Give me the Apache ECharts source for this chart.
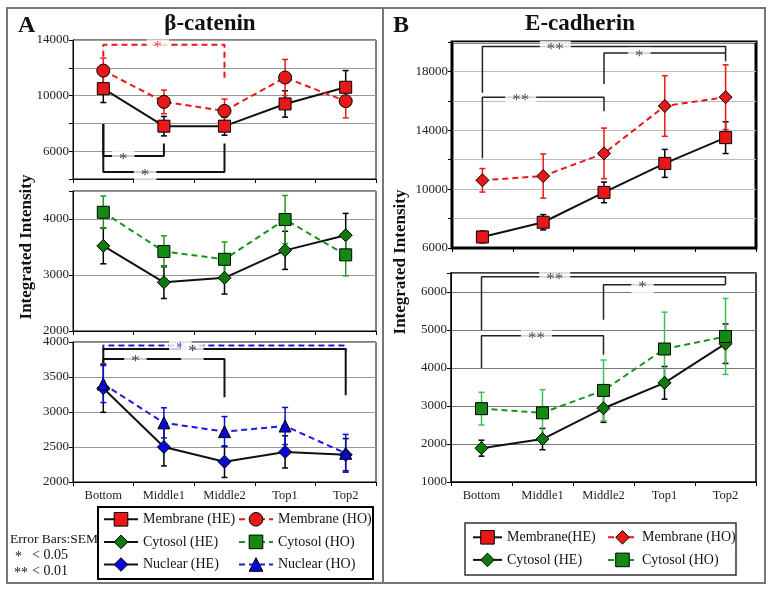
<!DOCTYPE html>
<html>
<head>
<meta charset="utf-8">
<title>beta-catenin / E-cadherin</title>
<script src="https://cdn.jsdelivr.net/npm/echarts@6/dist/echarts.min.js"></script>
<style>
html, body { margin: 0; padding: 0; background: #fff; }
#chart { width: 774px; height: 593px; }
</style>
</head>
<body>
<div id="chart"></div>
<script>
var categories = ['Bottom', 'Middle1', 'Middle2', 'Top1', 'Top2'];

// beta-catenin (panel A), mean and SEM per position
var bcatMemHE = [10500, 7800, 7800, 9400, 10600];
var bcatMemHEsem = [1000, 700, 650, 950, 1200];
var bcatMemHO = [11800, 9550, 8900, 11300, 9600];
var bcatMemHOsem = [900, 850, 850, 1300, 1200];
var bcatCytHE = [3520, 2870, 2950, 3440, 3710];
var bcatCytHEsem = [320, 290, 290, 340, 390];
var bcatCytHO = [4120, 3420, 3280, 3990, 3360];
var bcatCytHOsem = [290, 280, 310, 430, 375];
var bcatNucHE = [3340, 2500, 2290, 2430, 2390];
var bcatNucHEsem = [345, 270, 225, 230, 230];
var bcatNucHO = [3400, 2845, 2720, 2800, 2410];
var bcatNucHOsem = [265, 215, 215, 265, 270];

// E-cadherin (panel B)
var ecadMemHE = [6750, 7750, 9780, 11750, 13500];
var ecadMemHEsem = [400, 520, 700, 950, 1080];
var ecadMemHO = [10600, 10890, 12430, 15650, 16250];
var ecadMemHOsem = [800, 1500, 1720, 2060, 2200];
var ecadCytHE = [1890, 2130, 2940, 3610, 4640];
var ecadCytHEsem = [210, 280, 370, 430, 520];
var ecadCytHO = [2930, 2820, 3410, 4500, 4830];
var ecadCytHOsem = [430, 610, 800, 970, 1000];

// significance brackets: [fromIdx, toIdx, yTop, yLeftEnd, yRightEnd, starPos, text]
var sigA1 = [[0, 2, 13650, 12800, 11000, 0.9, '*']];
var sigA1b = [[0, 1, 5650, 7950, 6550, 0.33, '*'], [0, 2, 4500, 7950, 6550, 0.69, '*']];
var sigA3 = [[0, 4, 3950, 3880, 3880, 1.27, '*']];
var sigA3b = [[0, 4, 3900, 3700, 3240, 1.47, '*'], [0, 2, 3757, 3700, 3210, 0.53, '*']];
var sigB1 = [[0, 4, 19700, 16550, 18700, 1.2, '**'], [2, 4, 19250, 17150, 19250, 2.58, '*'], [0, 2, 16250, 12100, 15300, 0.63, '**']];
var sigB2 = [[0, 4, 6400, 5000, 6200, 1.2, '**'], [2, 4, 6190, 5270, 6190, 2.64, '*'], [0, 2, 4850, 4000, 4350, 0.9, '**']];

var serif = '"Liberation Serif", "Times New Roman", serif';
var red = '#e81818';
var green = '#0e7a0e';
var blue = '#0a0ad8';

var grids = [
    { left: 73, top: 40, width: 303, height: 139 },
    { left: 73, top: 191, width: 303, height: 140 },
    { left: 73, top: 342, width: 303, height: 140 },
    { left: 452, top: 42, width: 304, height: 206 },
    { left: 451, top: 273, width: 305, height: 209 }
];

var yRanges = [
    [4000, 14000, 2000, function(v) { return (v - 6000) % 4000 === 0 ? v : ''; }, '#999'],
    [2000, 4500, 1000, function(v) { return v > 4000 ? '' : v; }, '#999'],
    [2000, 4000, 500, function(v) { return v; }, '#999'],
    [6000, 20000, 2000, function(v) { return (v - 6000) % 4000 === 0 && v < 20000 ? v : ''; }, '#bbb'],
    [1000, 6500, 1000, function(v) { return v > 6000 ? '' : v; }, '#777']
];

lineSeries = function(name, gi, data, symbol, fill, color, dashed, size) {
    return {
        name: name,
        type: 'line',
        xAxisIndex: gi,
        yAxisIndex: gi,
        data: data,
        symbol: symbol,
        symbolSize: size || 12,
        showAllSymbol: true,
        z: 4,
        itemStyle: { color: fill, borderColor: '#000', borderWidth: 1 },
        lineStyle: { color: color, width: 2, type: dashed ? [6, 4] : 'solid' },
        emphasis: { disabled: true }
    };
};

errorSeries = function(gi, means, sems, color) {
    return {
        type: 'custom',
        xAxisIndex: gi,
        yAxisIndex: gi,
        z: 3,
        silent: true,
        data: means.map(function(m, i) { return [i, m - sems[i], m + sems[i]]; }),
        renderItem: function(params, api) {
            var lo = api.coord([api.value(0), api.value(1)]);
            var hi = api.coord([api.value(0), api.value(2)]);
            var w = 3;
            var st = { stroke: color, lineWidth: 1.5 };
            return {
                type: 'group',
                children: [
                    { type: 'line', shape: { x1: lo[0], y1: lo[1], x2: hi[0], y2: hi[1] }, style: st },
                    { type: 'line', shape: { x1: lo[0] - w, y1: lo[1], x2: lo[0] + w, y2: lo[1] }, style: st },
                    { type: 'line', shape: { x1: hi[0] - w, y1: hi[1], x2: hi[0] + w, y2: hi[1] }, style: st }
                ]
            };
        }
    };
};

bracketSeries = function(gi, list, color, dashed, width) {
    var out = [];
    list.forEach(function(b) {
        out.push({
            type: 'line',
            xAxisIndex: gi + 5,
            yAxisIndex: gi,
            symbol: 'none',
            silent: true,
            z: 5,
            lineStyle: { color: color, width: width, type: dashed ? [6, 4] : 'solid' },
            data: [[b[0], b[3]], [b[0], b[2]], [b[1], b[2]], [b[1], b[4]]]
        });
        out.push({
            type: 'scatter',
            xAxisIndex: gi + 5,
            yAxisIndex: gi,
            symbolSize: 0,
            silent: true,
            z: 6,
            data: [[b[5], b[2]]],
            label: {
                show: true, position: 'inside', formatter: b[6], color: color,
                fontFamily: serif, fontSize: 17, backgroundColor: '#fff',
                padding: [0, 7], offset: [0, 3]
            }
        });
    });
    return out;
};

var xAxes = [];
var yAxes = [];
grids.forEach(function(g, i) {
    xAxes.push({
        type: 'category', gridIndex: i, data: categories,
        axisLine: { onZero: false, lineStyle: { color: '#000', width: 1 } },
        axisTick: { show: true, length: 4, lineStyle: { color: '#000' } },
        axisLabel: { show: i === 2 || i === 4, interval: 0, fontFamily: serif, fontSize: 12.5, color: '#222', margin: 7 },
        splitLine: { show: false }
    });
});
grids.forEach(function(g, i) {
    xAxes.push({ type: 'value', gridIndex: i, min: -0.5, max: 4.5, show: false });
    var r = yRanges[i];
    yAxes.push({
        type: 'value', gridIndex: i, min: r[0], max: r[1], interval: r[2],
        axisLine: { show: true, onZero: false, lineStyle: { color: '#000', width: 1 } },
        axisTick: { show: true, length: 4, lineStyle: { color: '#000' } },
        axisLabel: { fontFamily: serif, fontSize: 13, color: '#222', margin: 4, formatter: r[3] },
        splitLine: { show: true, lineStyle: { color: r[4], width: 1 } }
    });
});

var series = [].concat(
    errorSeries(0, bcatMemHE, bcatMemHEsem, '#000'),
    errorSeries(0, bcatMemHO, bcatMemHOsem, red),
    lineSeries('Membrane (HE)', 0, bcatMemHE, 'rect', red, '#111', false, 12),
    lineSeries('Membrane (HO)', 0, bcatMemHO, 'circle', red, red, true, 13),
    bracketSeries(0, sigA1, red, true, 2),
    bracketSeries(0, sigA1b, '#111', false, 2),

    errorSeries(1, bcatCytHE, bcatCytHEsem, '#000'),
    errorSeries(1, bcatCytHO, bcatCytHOsem, '#1f9a1f'),
    lineSeries('Cytosol (HE)', 1, bcatCytHE, 'diamond', green, '#111', false, 13),
    lineSeries('Cytosol (HO)', 1, bcatCytHO, 'rect', '#138a13', '#1a931a', true, 12),

    errorSeries(2, bcatNucHE, bcatNucHEsem, '#000'),
    errorSeries(2, bcatNucHO, bcatNucHOsem, blue),
    lineSeries('Nuclear (HE)', 2, bcatNucHE, 'diamond', blue, '#111', false, 13),
    lineSeries('Nuclear (HO)', 2, bcatNucHO, 'triangle', blue, '#1818e8', true, 12),
    bracketSeries(2, sigA3, '#1818e8', true, 2),
    bracketSeries(2, sigA3b, '#111', false, 2),

    errorSeries(3, ecadMemHE, ecadMemHEsem, '#000'),
    errorSeries(3, ecadMemHO, ecadMemHOsem, red),
    lineSeries('Membrane(HE)', 3, ecadMemHE, 'rect', red, '#111', false, 12),
    lineSeries('Membrane (HO) ', 3, ecadMemHO, 'diamond', red, red, true, 13),
    bracketSeries(3, sigB1, '#222', false, 1.5),

    errorSeries(4, ecadCytHE, ecadCytHEsem, '#000'),
    errorSeries(4, ecadCytHO, ecadCytHOsem, '#3cbf5a'),
    lineSeries('Cytosol (HE) ', 4, ecadCytHE, 'diamond', green, '#111', false, 13),
    lineSeries('Cytosol (HO) ', 4, ecadCytHO, 'rect', '#138a13', '#1a931a', true, 12),
    bracketSeries(4, sigB2, '#222', false, 1.5)
);

legendCol = function(names, left, top, iw) {
    return {
        data: names, orient: 'vertical', left: left, top: top, padding: 0,
        itemWidth: iw, itemHeight: 17, itemGap: 8, selectedMode: false,
        itemStyle: { borderColor: '#000', borderWidth: 1 },
        lineStyle: { width: 2 },
        textStyle: { fontFamily: serif, fontSize: 14, color: '#111' }
    };
};

var txt = function(text, x, y, font, align, rot) {
    return {
        type: 'text', x: x, y: y, rotation: rot || 0, silent: true,
        style: { text: text, font: font, fill: '#111', align: align || 'left', verticalAlign: 'middle' }
    };
};

var myChart = echarts.init(document.getElementById('chart'), null, { renderer: 'canvas' });
myChart.setOption({
    animation: false,
    grid: grids.map(function(g, i) {
        return {
            left: g.left, top: g.top, width: g.width, height: g.height, show: true,
            borderColor: '#000', borderWidth: i === 3 ? 3 : (i === 4 ? 1.5 : 1)
        };
    }),
    xAxis: xAxes,
    yAxis: yAxes,
    legend: [
        legendCol(['Membrane (HE)', 'Cytosol (HE)', 'Nuclear (HE)'], 103, 512, 34),
        legendCol(['Membrane (HO)', 'Cytosol (HO)', 'Nuclear (HO)'], 238, 512, 34),
        legendCol(['Membrane(HE)', 'Cytosol (HE) '], 472, 530, 29),
        legendCol(['Membrane (HO) ', 'Cytosol (HO) '], 607, 530, 29)
    ],
    graphic: [
        { type: 'rect', silent: true, shape: { x: 7, y: 8, width: 758, height: 575 }, style: { fill: 'none', stroke: '#777', lineWidth: 2 } },
        { type: 'line', silent: true, shape: { x1: 383, y1: 8, x2: 383, y2: 583 }, style: { stroke: '#777', lineWidth: 2 } },
        { type: 'rect', silent: true, shape: { x: 98, y: 507, width: 275, height: 72 }, style: { fill: 'none', stroke: '#000', lineWidth: 2 } },
        { type: 'rect', silent: true, shape: { x: 465, y: 523, width: 271, height: 52 }, style: { fill: 'none', stroke: '#333', lineWidth: 1.5 } },
        txt('A', 18, 26, 'bold 24px ' + serif),
        txt('B', 393, 26, 'bold 24px ' + serif),
        txt('\u03b2-catenin', 210, 24, 'bold 23px ' + serif, 'center'),
        txt('E-cadherin', 580, 24, 'bold 23px ' + serif, 'center'),
        txt('Integrated Intensity', 27, 247, 'bold 17px ' + serif, 'center', Math.PI / 2),
        txt('Integrated Intensity', 401, 262, 'bold 17px ' + serif, 'center', Math.PI / 2),
        txt('Error Bars:SEM', 10, 539, '13.5px ' + serif),
        txt('*', 15, 557, '14px ' + serif),
        txt('< 0.05', 32, 555, '14px ' + serif),
        txt('**', 14, 573, '14px ' + serif),
        txt('< 0.01', 32, 571, '14px ' + serif)
    ],
    series: series
});
</script>
</body>
</html>
